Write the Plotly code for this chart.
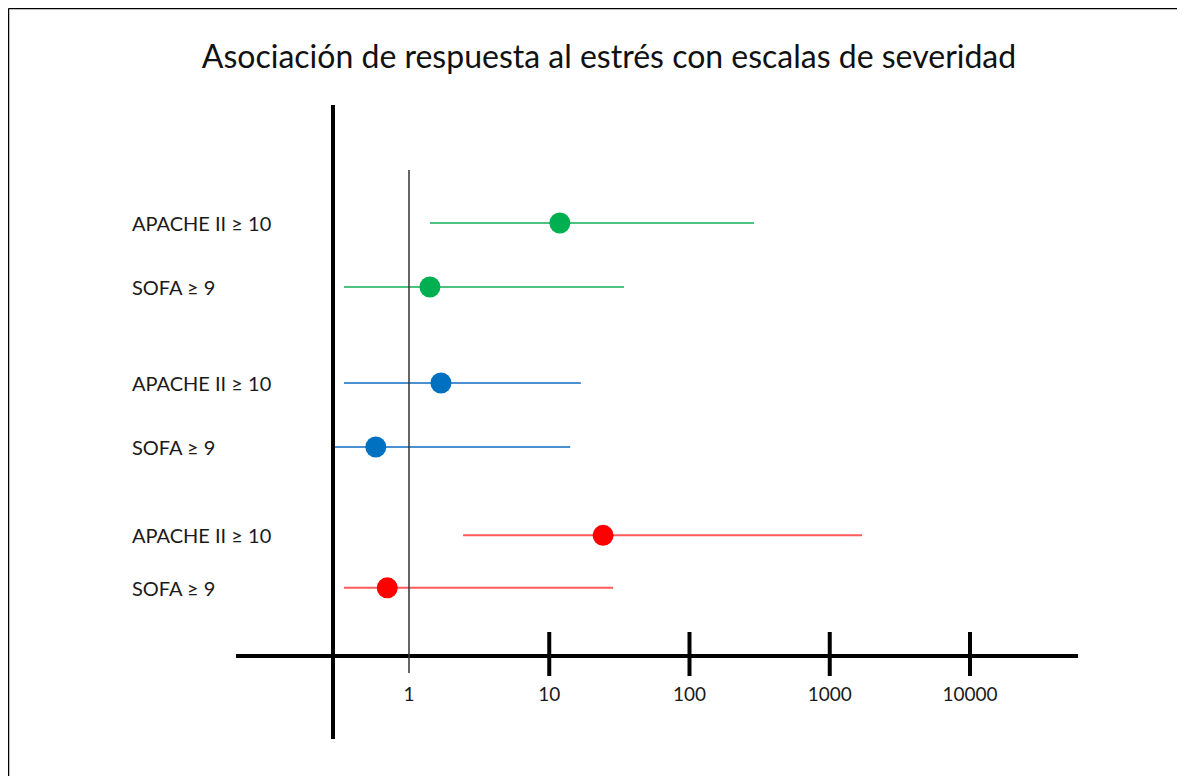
import plotly.graph_objects as go

# ---- data ----
labels = ["APACHE II ≥ 10", "SOFA ≥ 9", "APACHE II ≥ 10", "SOFA ≥ 9", "APACHE II ≥ 10", "SOFA ≥ 9"]
odds_ratio = [11.9, 1.41, 1.69, 0.58, 24.2, 0.70]
ci_low = [1.41, 0.344, 0.344, 0.287, 2.43, 0.344]
ci_high = [288, 34.1, 16.8, 14.1, 1700, 28.5]
tick_vals = [1, 10, 100, 1000, 10000]
tick_text = ["1", "10", "100", "1000", "10000"]
title_text = "Asociación de respuesta al estrés con escalas de severidad"

# ---- styling / layout ----
row_pos = [0, 1, 2.5, 3.5, 4.88, 5.7]
marker_colors = ["#00B050", "#00B050", "#0070C0", "#0070C0", "#FF0000", "#FF0000"]
line_colors = ["#4CC27E", "#4CC27E", "#4A90D0", "#4A90D0", "#FF5A5A", "#FF5A5A"]
FONT = "Lato"

OFF = 8  # page body margin
W, H = 1185 - OFF, 776 - OFF
ML = 236 - OFF
MR = W - (1078 - OFF)
MT = 100 - OFF
MB = H - (654 - OFF)
pw, ph = W - ML - MR, H - MT - MB


def px_x(p):
    return (p - OFF - ML) / pw


def px_y(p):
    return (H - MB - (p - OFF)) / ph


fig = go.Figure()
for i in range(len(labels)):
    fig.add_trace(go.Scatter(
        x=[ci_low[i], ci_high[i]], y=[row_pos[i], row_pos[i]], mode="lines",
        line=dict(color=line_colors[i], width=2), showlegend=False, hoverinfo="skip"))
for i in range(len(labels)):
    fig.add_trace(go.Scatter(
        x=[odds_ratio[i]], y=[row_pos[i]], mode="markers",
        marker=dict(color=marker_colors[i], size=21), showlegend=False,
        name=labels[i]))

shapes = []
# reference line at 1
shapes.append(dict(type="line", xref="x", yref="paper", x0=1, x1=1,
                   y0=px_y(673), y1=px_y(170), line=dict(color="#333333", width=1.5)))
# vertical thick axis
shapes.append(dict(type="line", xref="paper", yref="paper", x0=px_x(333), x1=px_x(333),
                   y0=px_y(739), y1=px_y(105), line=dict(color="black", width=4)))
# thick ticks crossing the axis
for v in tick_vals[1:]:
    shapes.append(dict(type="line", xref="x", yref="paper", x0=v, x1=v,
                       y0=px_y(676), y1=px_y(632), line=dict(color="black", width=4)))
# slide frame (top and left edges only; the rest lies outside the picture)
shapes.append(dict(type="line", xref="paper", yref="paper", x0=px_x(8.5), x1=px_x(1186),
                   y0=px_y(8.5), y1=px_y(8.5), line=dict(color="black", width=1.5)))
shapes.append(dict(type="line", xref="paper", yref="paper", x0=px_x(8.5), x1=px_x(8.5),
                   y0=px_y(777), y1=px_y(8.5), line=dict(color="black", width=1.5)))

annotations = []
for i in range(len(labels)):
    annotations.append(dict(text=labels[i], xref="paper", yref="y", x=px_x(130), y=row_pos[i],
                            xanchor="left", yanchor="middle", showarrow=False,
                            font=dict(family=FONT, size=20, color="#1a1a1a")))

x_lo = (236 - 409) / 140.25
x_hi = (1078 - 409) / 140.25
y_top = -123 / 64
y_bot = 431 / 64

fig.update_layout(
    width=W, height=H,
    margin=dict(l=ML, r=MR, t=MT, b=MB),
    paper_bgcolor="white", plot_bgcolor="white",
    title=dict(text=title_text, xref="container", yref="container",
               x=(609 - OFF) / W, y=1 - (57 - OFF) / H,
               xanchor="center", yanchor="middle",
               font=dict(family=FONT, size=32, color="#111111")),
    xaxis=dict(type="log", range=[x_lo, x_hi], tickvals=tick_vals, ticktext=tick_text,
               showgrid=False, zeroline=False, showline=True, linecolor="black", linewidth=4,
               ticks="", ticklabelstandoff=20,
               tickfont=dict(family=FONT, size=19, color="#1a1a1a")),
    yaxis=dict(range=[y_bot, y_top], showgrid=False, zeroline=False, showline=False,
               showticklabels=False, ticks=""),
    shapes=shapes, annotations=annotations,
)

fig.write_html("out.html")
